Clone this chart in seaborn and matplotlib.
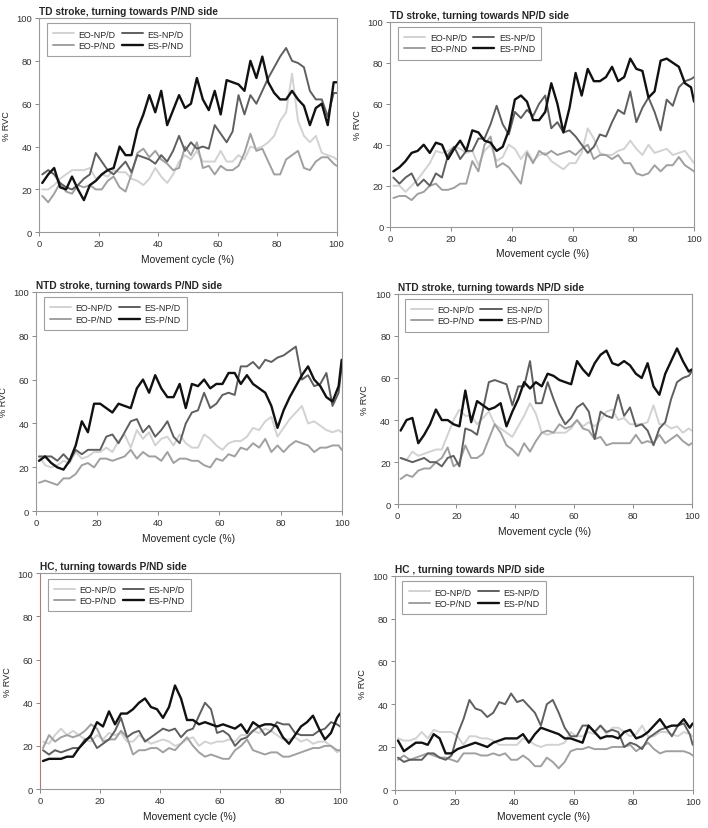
import matplotlib
matplotlib.use('Agg')
import matplotlib.pyplot as plt
import pandas as pd
import seaborn as sns

# x positions (movement cycle, %)
x_pct = list(range(1, 100, 2)) + [100]

series_names = ['EO-NP/D', 'EO-P/ND', 'ES-NP/D', 'ES-P/ND']
panel_titles = ['TD stroke, turning towards P/ND side', 'TD stroke, turning towards NP/D side',
                'NTD stroke, turning towards P/ND side', 'NTD stroke, turning towards NP/D side',
                'HC, turning towards P/ND side', 'HC , turning towards NP/D side']

# Panel 1: TD stroke, P/ND side
td_pnd_eo_npd = [20, 20, 22, 25, 27, 29, 29, 29, 30, 25, 27, 26, 29, 28, 28, 25, 24, 22, 25, 30, 26, 23, 27, 33, 36,
                 34, 38, 33, 33, 33, 38, 33, 33, 36, 34, 40, 39, 40, 42, 45, 52, 56, 74, 52, 45, 42, 45, 37, 36, 35, 34]
td_pnd_eo_pnd = [17, 14, 18, 23, 19, 18, 22, 21, 22, 20, 20, 24, 26, 21, 19, 27, 37, 39, 35, 38, 34, 32, 29, 30, 40,
                 36, 42, 30, 31, 27, 31, 29, 29, 31, 37, 46, 38, 39, 33, 27, 27, 34, 36, 38, 30, 29, 33, 35, 35, 32, 31]
td_pnd_es_npd = [27, 29, 27, 23, 21, 20, 22, 25, 27, 37, 33, 29, 27, 30, 33, 28, 36, 35, 34, 32, 36, 33, 38, 45, 38,
                 42, 39, 40, 39, 50, 46, 42, 47, 64, 55, 64, 60, 66, 72, 77, 82, 86, 80, 79, 77, 66, 62, 62, 54, 65, 65]
td_pnd_es_pnd = [23, 27, 30, 21, 20, 26, 20, 15, 22, 24, 27, 29, 30, 40, 36, 36, 48, 55, 64, 56, 66, 50, 57, 64, 58,
                 60, 72, 62, 57, 66, 55, 71, 70, 69, 66, 80, 72, 82, 70, 65, 62, 62, 66, 62, 59, 50, 58, 60, 50, 70, 70]

# Panel 2: TD stroke, NP/D side
td_npd_eo_npd = [20, 20, 17, 20, 23, 27, 31, 37, 36, 37, 39, 38, 36, 37, 30, 37, 40, 32, 34, 40, 38, 33, 37, 32, 35,
                 36, 32, 30, 28, 31, 31, 36, 48, 43, 36, 35, 35, 37, 38, 42, 38, 35, 40, 36, 37, 38, 35, 36, 37, 33, 31]
td_npd_eo_pnd = [14, 15, 15, 13, 16, 17, 20, 21, 18, 18, 19, 21, 21, 32, 27, 40, 44, 29, 31, 29, 25, 21, 36, 31, 37,
                 35, 37, 35, 36, 37, 35, 38, 40, 33, 35, 35, 33, 35, 31, 31, 26, 25, 26, 30, 27, 30, 30, 34, 30, 28, 27]
td_npd_es_npd = [24, 21, 24, 26, 20, 23, 20, 26, 24, 35, 39, 33, 37, 37, 43, 43, 50, 59, 50, 45, 56, 53, 57, 54, 60,
                 64, 48, 51, 46, 47, 44, 40, 36, 39, 45, 44, 51, 57, 55, 66, 51, 58, 63, 56, 47, 62, 59, 68, 71, 72, 73]
td_npd_es_pnd = [27, 29, 32, 36, 37, 40, 36, 41, 40, 33, 38, 42, 37, 47, 46, 42, 41, 37, 39, 47, 62, 64, 61, 52, 52,
                 56, 70, 60, 46, 58, 75, 64, 77, 71, 71, 73, 78, 71, 73, 82, 77, 76, 63, 66, 81, 82, 80, 78, 70, 68, 61]

# Panel 3: NTD stroke, P/ND side
ntd_pnd_eo_npd = [25, 21, 20, 21, 23, 22, 27, 24, 25, 27, 27, 29, 27, 32, 35, 29, 37, 33, 36, 30, 33, 34, 30, 35, 31,
                  29, 29, 35, 33, 30, 28, 31, 32, 32, 34, 38, 37, 41, 43, 34, 38, 42, 45, 48, 40, 41, 39, 37, 36, 37, 36]
ntd_pnd_eo_pnd = [13, 14, 13, 12, 15, 15, 17, 21, 22, 20, 24, 24, 23, 24, 25, 28, 24, 27, 25, 25, 23, 27, 22, 24, 24,
                  23, 23, 21, 20, 24, 23, 26, 25, 29, 28, 31, 29, 33, 27, 30, 27, 30, 32, 31, 30, 27, 29, 29, 30, 30, 28]
ntd_pnd_es_npd = [25, 25, 25, 23, 26, 23, 28, 26, 28, 28, 28, 34, 35, 31, 36, 41, 42, 36, 39, 34, 37, 41, 34, 31, 40,
                  45, 46, 54, 47, 49, 53, 54, 53, 66, 66, 68, 65, 69, 68, 70, 71, 73, 75, 60, 62, 57, 58, 63, 48, 54, 66]
ntd_pnd_es_pnd = [23, 25, 22, 20, 19, 23, 30, 41, 36, 49, 49, 47, 45, 49, 48, 47, 56, 60, 54, 62, 56, 52, 52, 58, 47,
                  58, 57, 60, 56, 58, 58, 63, 63, 58, 62, 58, 56, 54, 48, 38, 46, 52, 57, 62, 66, 60, 57, 52, 50, 57, 69]

# Panel 4: NTD stroke, NP/D side
ntd_npd_eo_npd = [22, 21, 25, 23, 24, 25, 26, 26, 33, 40, 45, 42, 42, 38, 41, 44, 38, 36, 34, 32, 37, 42, 48, 43, 34,
                  33, 34, 34, 34, 36, 40, 37, 39, 37, 40, 44, 45, 40, 41, 38, 38, 38, 39, 47, 38, 38, 36, 37, 34, 36, 35]
ntd_npd_eo_pnd = [12, 14, 13, 16, 17, 17, 20, 22, 27, 18, 20, 28, 22, 22, 24, 31, 38, 34, 28, 26, 23, 29, 25, 30, 34,
                  35, 34, 38, 36, 37, 40, 36, 35, 31, 32, 28, 29, 29, 29, 29, 33, 29, 30, 29, 33, 29, 31, 33, 30, 28, 29]
ntd_npd_es_npd = [22, 21, 20, 21, 22, 20, 20, 18, 22, 23, 18, 36, 35, 33, 45, 58, 59, 58, 57, 47, 56, 56, 68, 48, 48,
                  58, 50, 43, 38, 41, 46, 48, 44, 31, 44, 42, 41, 52, 42, 46, 37, 38, 35, 28, 36, 39, 50, 58, 60, 61, 63]
ntd_npd_es_pnd = [35, 40, 41, 29, 33, 38, 45, 40, 40, 38, 37, 54, 39, 49, 47, 45, 46, 48, 37, 44, 50, 58, 55, 58, 56,
                  62, 61, 59, 58, 57, 68, 64, 61, 67, 71, 73, 67, 66, 68, 66, 62, 60, 67, 56, 52, 62, 68, 74, 68, 63, 64]

# Panel 5: HC, P/ND side
hc_pnd_eo_npd = [22, 21, 25, 28, 25, 27, 25, 23, 22, 25, 23, 26, 25, 26, 22, 22, 25, 23, 21, 22, 23, 22, 20, 21, 23,
                 24, 20, 22, 21, 22, 22, 23, 22, 25, 25, 27, 26, 28, 27, 25, 23, 23, 24, 22, 23, 21, 22, 22, 20, 17, 18]
hc_pnd_eo_pnd = [19, 25, 22, 24, 25, 24, 25, 27, 30, 28, 22, 23, 23, 27, 24, 16, 18, 18, 19, 19, 17, 19, 18, 21, 24,
                 20, 17, 15, 16, 15, 14, 14, 18, 20, 23, 18, 17, 16, 17, 17, 15, 15, 16, 17, 18, 19, 19, 20, 20, 18, 18]
hc_pnd_es_npd = [18, 16, 18, 17, 18, 19, 19, 23, 24, 19, 21, 23, 27, 33, 24, 26, 27, 22, 24, 26, 28, 27, 28, 24, 27,
                 28, 34, 40, 37, 26, 27, 25, 20, 23, 24, 27, 29, 25, 27, 31, 30, 30, 26, 25, 25, 25, 27, 28, 31, 30, 29]
hc_pnd_es_pnd = [13, 14, 14, 14, 15, 15, 19, 22, 25, 31, 29, 36, 30, 35, 35, 37, 40, 42, 38, 37, 33, 38, 48, 42, 32,
                 32, 30, 31, 30, 29, 30, 29, 28, 30, 26, 31, 29, 30, 30, 29, 24, 21, 25, 29, 31, 34, 28, 23, 26, 33, 35]

# Panel 6: HC, NP/D side
hc_npd_eo_npd = [24, 23, 23, 24, 27, 24, 28, 27, 27, 27, 25, 21, 25, 25, 24, 24, 23, 21, 21, 21, 21, 24, 23, 21, 20,
                 21, 21, 21, 22, 27, 25, 25, 27, 26, 30, 26, 29, 29, 27, 25, 26, 30, 25, 25, 27, 27, 26, 25, 27, 26, 25]
hc_npd_eo_pnd = [14, 16, 14, 15, 16, 17, 16, 15, 15, 14, 13, 17, 17, 17, 16, 16, 17, 16, 17, 14, 14, 16, 14, 11, 11,
                 15, 13, 10, 13, 18, 19, 19, 20, 19, 19, 19, 20, 20, 20, 21, 18, 20, 22, 19, 17, 18, 18, 18, 18, 17, 16]
hc_npd_es_npd = [15, 13, 14, 14, 14, 17, 17, 15, 14, 16, 26, 33, 42, 38, 37, 34, 36, 41, 40, 45, 41, 42, 39, 36, 30,
                 40, 42, 36, 29, 25, 25, 30, 30, 27, 30, 27, 28, 27, 20, 22, 21, 19, 24, 26, 28, 29, 25, 30, 31, 26, 21]
hc_npd_es_pnd = [23, 18, 20, 22, 22, 21, 26, 24, 17, 17, 19, 20, 21, 22, 21, 20, 22, 23, 24, 24, 24, 26, 22, 26, 29,
                 28, 27, 26, 24, 24, 23, 22, 30, 27, 24, 25, 25, 24, 27, 28, 24, 25, 27, 30, 33, 29, 30, 30, 33, 29, 31]

panels = [
    [td_pnd_eo_npd, td_pnd_eo_pnd, td_pnd_es_npd, td_pnd_es_pnd],
    [td_npd_eo_npd, td_npd_eo_pnd, td_npd_es_npd, td_npd_es_pnd],
    [ntd_pnd_eo_npd, ntd_pnd_eo_pnd, ntd_pnd_es_npd, ntd_pnd_es_pnd],
    [ntd_npd_eo_npd, ntd_npd_eo_pnd, ntd_npd_es_npd, ntd_npd_es_pnd],
    [hc_pnd_eo_npd, hc_pnd_eo_pnd, hc_pnd_es_npd, hc_pnd_es_pnd],
    [hc_npd_eo_npd, hc_npd_eo_pnd, hc_npd_es_npd, hc_npd_es_pnd],
]

palette = {'EO-NP/D': '#d2d2d2', 'EO-P/ND': '#a0a0a0', 'ES-NP/D': '#5f5f5f', 'ES-P/ND': '#111111'}
widths = {'EO-NP/D': 1.4, 'EO-P/ND': 1.4, 'ES-NP/D': 1.4, 'ES-P/ND': 1.7}

sns.set_theme(style='ticks')
plt.rcParams['font.family'] = ['Liberation Sans', 'DejaVu Sans']

fig = plt.figure(figsize=(7.08, 8.29), dpi=100)

# axes rectangles [left, bottom, width, height] in figure fractions
rects = [
    [0.0555, 0.7186, 0.4200, 0.2585],
    [0.5513, 0.7253, 0.4290, 0.2473],
    [0.0508, 0.3820, 0.4318, 0.2649],
    [0.5617, 0.3905, 0.4153, 0.2540],
    [0.0565, 0.0470, 0.4237, 0.2602],
    [0.5579, 0.0462, 0.4205, 0.2578],
]

for i, (rect, title, values) in enumerate(zip(rects, panel_titles, panels)):
    ax = fig.add_axes(rect)
    df = pd.DataFrame({
        'x': x_pct * 4,
        'value': [v for s in values for v in s],
        'series': [n for n in series_names for _ in x_pct],
    })
    for name in series_names:
        sns.lineplot(data=df[df['series'] == name], x='x', y='value', color=palette[name],
                     lw=widths[name], ax=ax, label=name)
    ax.set_xlim(0, 100)
    ax.set_ylim(0, 100)
    ax.set_xticks([0, 20, 40, 60, 80, 100])
    ax.set_yticks([0, 20, 40, 60, 80, 100])
    ax.tick_params(labelsize=6.8, length=3, width=0.7, color='#888888', labelcolor='#333333', pad=2)
    for sp in ax.spines.values():
        sp.set_color('#999999')
        sp.set_linewidth(0.8)
    if i == 4:
        ax.spines['left'].set_color('#b07a7a')
    ax.set_xlabel('Movement cycle (%)', fontsize=7.4, color='#222222', labelpad=4)
    ax.set_ylabel('% RVC', fontsize=6.6, color='#222222', labelpad=4)
    ax.set_title(title, loc='left', fontsize=7.3, fontweight='bold', pad=3)
    handles, labels = ax.get_legend_handles_labels()
    ax.legend(handles, labels, ncol=2, loc='upper left', bbox_to_anchor=(0.025, 0.975),
              borderaxespad=0, fontsize=6.4, frameon=True, fancybox=False, edgecolor='#888888',
              handlelength=2.4, handletextpad=0.5, columnspacing=0.7, labelspacing=0.25,
              borderpad=0.7)
    ax.get_legend().get_frame().set_linewidth(0.8)

fig.savefig('out.png', dpi=100)
